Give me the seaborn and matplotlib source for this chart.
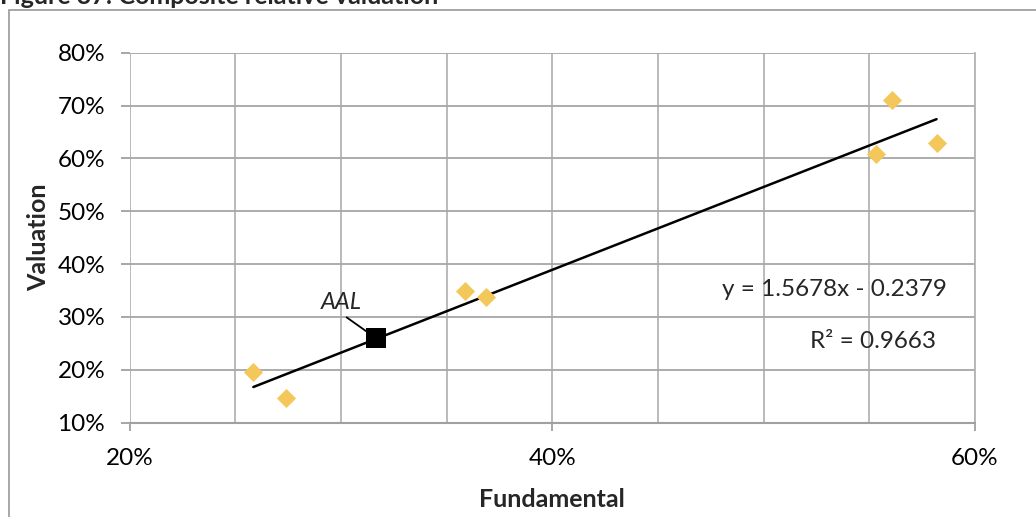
import matplotlib
matplotlib.use("Agg")
import matplotlib.pyplot as plt
import matplotlib.ticker as mticker
from matplotlib.patches import Rectangle
import numpy as np
import pandas as pd
import seaborn as sns

# ---- data ----
peer_fundamental = [0.2586, 0.2740, 0.3587, 0.3685, 0.5530, 0.5605, 0.5818]
peer_valuation = [0.1965, 0.1462, 0.3497, 0.3384, 0.6080, 0.7105, 0.6286]
aal_fundamental = [0.3166]
aal_valuation = [0.2600]
aal_label = ["AAL"]
trend_slope = 1.5678
trend_intercept = -0.2379
trend_r2 = 0.9663
x_ticks = [0.20, 0.40, 0.60]
y_ticks = [0.10, 0.20, 0.30, 0.40, 0.50, 0.60, 0.70, 0.80]

peers = pd.DataFrame({"Fundamental": peer_fundamental, "Valuation": peer_valuation})
aal = pd.DataFrame({"Fundamental": aal_fundamental, "Valuation": aal_valuation})
all_x = np.array(peer_fundamental + aal_fundamental)
trend = pd.DataFrame({"Fundamental": [all_x.min(), all_x.max()]})
trend["Valuation"] = trend_slope * trend["Fundamental"] + trend_intercept

sns.set_theme(style="white")
plt.rcParams["font.family"] = ["Lato", "DejaVu Sans"]

W, H = 1036, 517
fig = plt.figure(figsize=(W / 100, H / 100), dpi=100)
# axes in pixel coordinates
l, r, t, b = 129.5, 975, 52.7, 422.7
ax = fig.add_axes([l / W, 1 - b / H, (r - l) / W, (b - t) / H])

FS = 17.5
grid_c = "#b4b4b4"
ax.set_xlim(0.20, 0.60)
ax.set_ylim(0.10, 0.80)
ax.xaxis.set_major_locator(mticker.FixedLocator(x_ticks))
ax.xaxis.set_minor_locator(mticker.MultipleLocator(0.05))
ax.yaxis.set_major_locator(mticker.FixedLocator(y_ticks))
ax.xaxis.set_major_formatter(mticker.PercentFormatter(1.0, decimals=0))
ax.yaxis.set_major_formatter(mticker.PercentFormatter(1.0, decimals=0))
ax.grid(True, which="both", axis="x", color=grid_c, lw=1.3)
ax.grid(True, which="major", axis="y", color="#a6a6a6", lw=1.3)
ax.set_axisbelow(True)
for s in ["top", "left"]:
    ax.spines[s].set_visible(False)
ax.spines["right"].set_color(grid_c)
ax.spines["right"].set_linewidth(1.3)
ax.spines["bottom"].set_color("#a0a0a0")
ax.spines["bottom"].set_linewidth(1.5)
ax.tick_params(axis="x", which="major", length=6, width=1.3, color="#a0a0a0",
               pad=12, labelsize=FS, labelcolor="black", direction="out", bottom=True)
ax.tick_params(axis="x", which="minor", length=0)
ax.tick_params(axis="y", which="major", length=6.5, width=1.3, color="#a0a0a0",
               pad=11, labelsize=FS, labelcolor="black", direction="out", left=True)

sns.lineplot(data=trend, x="Fundamental", y="Valuation", color="black", lw=1.8, ax=ax, zorder=3)
sns.scatterplot(data=peers, x="Fundamental", y="Valuation", marker="D", s=95,
                color="#F3C75A", edgecolor="#F3C75A", linewidth=0, ax=ax, zorder=4)
sns.scatterplot(data=aal, x="Fundamental", y="Valuation", marker="s", s=210,
                color="black", edgecolor="black", linewidth=0, ax=ax, zorder=5)

ax.annotate(aal_label[0], xy=(aal_fundamental[0], aal_valuation[0]),
            xytext=(0.3000, 0.3070), textcoords="data",
            fontsize=FS - 0.5, fontstyle="italic", ha="center", va="bottom",
            arrowprops=dict(arrowstyle="-", color="black", lw=1.3,
                            shrinkA=1, shrinkB=8,
                            relpos=(0.5, 0.0)), zorder=6)

ax.text(0.5337, 0.3529, f"y = {trend_slope:.4f}x - {abs(trend_intercept):.4f}",
        fontsize=FS, ha="center", va="center", zorder=6)
ax.text(0.5517, 0.2527, f"R² = {trend_r2:.4f}", fontsize=FS, ha="center", va="center", zorder=6)

ax.set_xlabel("Fundamental", fontsize=18, fontweight="bold", labelpad=14)
ax.set_ylabel("Valuation", fontsize=18, fontweight="bold", labelpad=5)

# outer chart border (left and top visible)
fig.patches.append(Rectangle((9 / W, -0.1), 1.2, 1 - 10 / H + 0.1, transform=fig.transFigure,
                             fill=False, edgecolor="#a0a0a0", lw=1.3))
fig.text(0 / W, 1 - 4 / H, "Figure 37: Composite relative valuation", fontsize=18,
         fontweight="bold", ha="left", va="baseline")

fig.savefig("out.png", dpi=100)
